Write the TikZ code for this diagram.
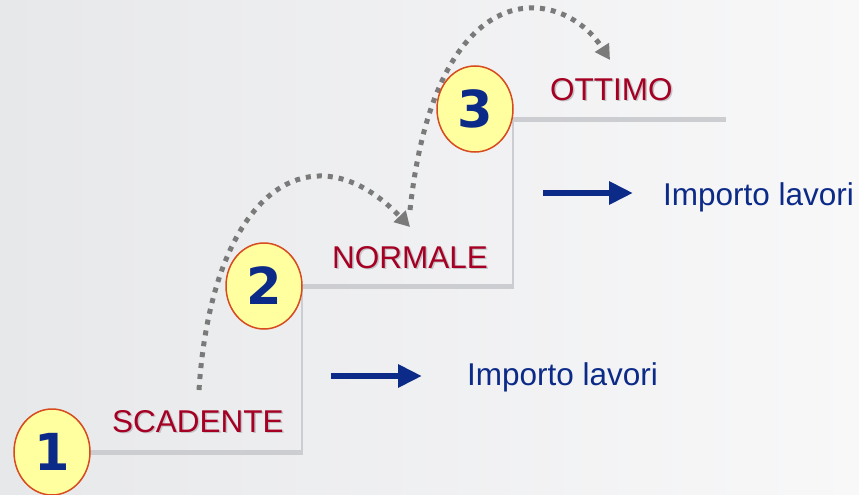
\documentclass[tikz,border=0pt]{standalone}
\usepackage{fontspec}
\setmainfont{Liberation Sans}
\newfontfamily\numfont{DejaVu Sans}
\usetikzlibrary{arrows.meta,shapes.geometric}
\definecolor{bgL}{RGB}{231,232,234}
\definecolor{bgR}{RGB}{248,248,249}
\definecolor{stepgray}{RGB}{203,205,208}
\definecolor{lblred}{RGB}{165,0,35}
\definecolor{navy}{RGB}{12,42,135}
\definecolor{circfill}{RGB}{255,255,160}
\definecolor{circedge}{RGB}{215,75,30}
\definecolor{dotgray}{RGB}{122,122,122}
\definecolor{shadowgray}{RGB}{195,195,200}
\begin{document}
\begin{tikzpicture}[x=1pt,y=-1pt,
  stepnum/.style={ellipse, draw=circedge, line width=1.5pt, fill=circfill,
    minimum width=76pt, minimum height=86pt, inner sep=0pt,
    font=\numfont\bfseries\fontsize{51}{51}\selectfont, text=navy},
  lvl/.style={anchor=base west, inner sep=0pt, font=\fontsize{31.5}{32}\selectfont, text=lblred},
  imp/.style={anchor=base west, inner sep=0pt, font=\fontsize{31.5}{32}\selectfont, text=navy},
  txtshadow/.style={text=shadowgray},
  tread/.style={draw=stepgray, line width=5pt},
  riser/.style={draw=stepgray, line width=2pt},
  hop/.style={draw=dotgray, line width=5pt, dash pattern=on 5pt off 6pt,
    -{Triangle[length=15pt,width=16pt]}},
  bluearrow/.style={draw=navy, line width=6pt, -{Triangle[length=24pt,width=22pt]}}
]
% background
\useasboundingbox (0,0) rectangle (859,495);
\shade[left color=bgL, right color=bgR] (0,0) rectangle (859,495);

% coordinates
\coordinate (p1) at (52,452);
\coordinate (p2) at (264,286);
\coordinate (p3) at (475,109);
\coordinate (k1) at (302,452);
\coordinate (k2) at (302,286);
\coordinate (k3) at (513,286);
\coordinate (k4) at (513,119);
\coordinate (k5) at (726,119);

% steps
\draw[riser] (k1) -- (k2);
\draw[riser] (k3) -- (k4);
\draw[tread] (p1) -- ([xshift=1pt]k1);
\draw[tread] (k2) -- ([xshift=1pt]k3);
\draw[tread] (k4) -- (k5);

% dotted hops
\coordinate (h1s) at (199,390);
\coordinate (h1e) at (410,227);
\coordinate (h2s) at (410,210);
\coordinate (h2e) at (610,60);
\draw[hop] (h1s) .. controls (212,190) and (312,125) .. (h1e);
\draw[hop] (h2s) .. controls (436,-30) and (561,-16) .. (h2e);

% circles
\node[stepnum] (c1) at (p1) {1};
\node[stepnum] (c2) at (p2) {2};
\node[stepnum] (c3) at (p3) {3};

% level labels
\node[lvl, txtshadow] (l1s) at (113.5,433.5) {SCADENTE};
\node[lvl] (l1) at (112,432) {SCADENTE};
\node[lvl, txtshadow] (l2s) at (333.5,269.5) {NORMALE};
\node[lvl] (l2) at (332,268) {NORMALE};
\node[lvl, txtshadow] (l3s) at (551.5,101.5) {OTTIMO};
\node[lvl] (l3) at (550,100) {OTTIMO};

% importo lavori
\coordinate (a1s) at (331,376);
\coordinate (a1e) at (422,376);
\coordinate (a2s) at (543,193);
\coordinate (a2e) at (633,193);
\draw[bluearrow] (a1s) -- (a1e);
\draw[bluearrow] (a2s) -- (a2e);
\node[imp] (i1) at (467,385) {Importo lavori};
\node[imp] (i2) at (663,205) {Importo lavori};
\end{tikzpicture}
\end{document}
